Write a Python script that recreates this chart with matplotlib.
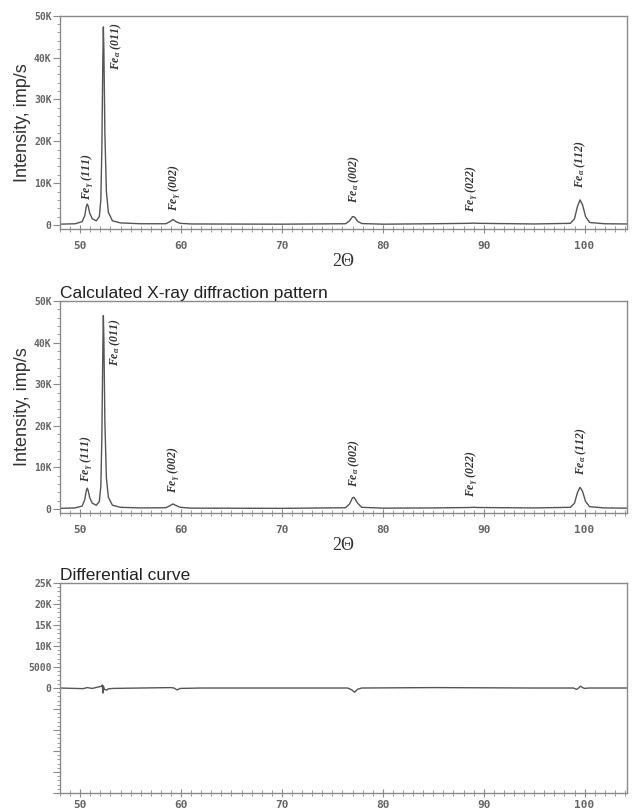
import matplotlib.pyplot as plt
from matplotlib.ticker import MultipleLocator, FuncFormatter

plt.rcParams['mathtext.fontset'] = 'custom'
plt.rcParams['mathtext.it'] = 'Liberation Serif:italic:bold'
plt.rcParams['mathtext.rm'] = 'Liberation Serif:italic:bold'

# measured pattern
two_theta_meas = [48.0, 49.5, 50.2, 50.45, 50.6, 50.7, 50.8, 50.95, 51.2, 51.6, 51.9,
                  52.05, 52.15, 52.25, 52.3, 52.35, 52.45, 52.6, 52.8, 53.2, 54.0, 56.0,
                  58.5, 58.9, 59.2, 59.5, 59.9, 61.0, 70.0, 76.3, 76.7, 77.0, 77.2, 77.5,
                  77.9, 80.0, 85.0, 88.5, 89.0, 89.5, 95.0, 98.6, 99.0, 99.3, 99.55, 99.8,
                  100.1, 100.5, 102.0, 104.2]
intensity_meas = [200, 300, 800, 2200, 4300, 5000, 4500, 2800, 1500, 1000, 2000,
                  6000, 18000, 40000, 47300, 42000, 22000, 8000, 3000, 1000, 500, 300,
                  300, 800, 1300, 800, 400, 250, 200, 300, 1000, 2000, 1900, 900,
                  350, 200, 300, 400, 450, 400, 250, 400, 1500, 4500, 6000, 4800,
                  2000, 600, 300, 250]

# calculated pattern
two_theta_calc = [48.0, 49.5, 50.2, 50.45, 50.6, 50.7, 50.8, 50.95, 51.2, 51.6, 51.9,
                  52.05, 52.15, 52.25, 52.3, 52.35, 52.45, 52.6, 52.8, 53.2, 54.0, 56.0,
                  58.5, 58.9, 59.2, 59.5, 59.9, 61.0, 70.0, 76.3, 76.7, 77.0, 77.15, 77.5,
                  77.9, 80.0, 85.0, 88.5, 89.0, 89.5, 95.0, 98.6, 99.0, 99.3, 99.55, 99.8,
                  100.1, 100.5, 102.0, 104.2]
intensity_calc = [150, 250, 700, 2200, 4300, 5000, 4400, 2700, 1400, 900, 1800,
                  5500, 17000, 39000, 46500, 41000, 21000, 7500, 2800, 900, 400, 250,
                  300, 800, 1200, 850, 400, 200, 150, 300, 1200, 2700, 2800, 1400,
                  400, 200, 250, 350, 400, 350, 250, 400, 1400, 4000, 5200, 4200,
                  1800, 550, 250, 200]

# differential curve
two_theta_diff = [48.0, 50.3, 50.7, 51.2, 51.8, 52.1, 52.2, 52.25, 52.3, 52.4, 52.6,
                  52.8, 53.2, 56.0, 59.0, 59.3, 59.6, 59.9, 62.0, 70.0, 76.5, 76.9,
                  77.2, 77.5, 77.9, 85.0, 95.0, 98.9, 99.2, 99.4, 99.6, 99.8, 100.0,
                  100.4, 104.2]
intensity_diff = [0, -150, 100, -100, 250, 400, 700, -1200, 500, -300, -500,
                  -200, -100, 0, 100, 0, -450, -100, 0, 0, 0, -400,
                  -1000, -300, 0, 100, 0, 0, -350, 0, 450, 100, -100,
                  0, 0]

peak_labels = ['Fe$_{\\gamma}$ (111)', 'Fe$_{\\alpha}$ (011)', 'Fe$_{\\gamma}$ (002)',
               'Fe$_{\\alpha}$ (002)', 'Fe$_{\\gamma}$ (022)', 'Fe$_{\\alpha}$ (112)']

# label anchors (x, y, va) per panel
label_pos_meas = [(50.7, 6000, 'bottom'), (53.6, 48500, 'top'), (59.4, 3300, 'bottom'),
                  (77.2, 5300, 'bottom'), (88.8, 3100, 'bottom'), (99.6, 8800, 'bottom')]
label_pos_calc = [(50.6, 6500, 'bottom'), (53.5, 45800, 'top'), (59.3, 3800, 'bottom'),
                  (77.2, 5300, 'bottom'), (88.8, 2900, 'bottom'), (99.7, 8200, 'bottom')]

line_col = '#555555'
spine_col = '#8a8a8a'
tick_col = '#666666'


def fmt_k(v, pos):
    if v < 0:
        return ''
    if v == 0:
        return '0'
    if v >= 10000:
        return f'{v/1000:.0f}K'
    return f'{v:.0f}'


def style_axes(ax, ymaj, ymin, xpad=6):
    ax.set_xlim(48.0, 104.2)
    for s in ax.spines.values():
        s.set_color(spine_col)
        s.set_linewidth(1.0)
    ax.xaxis.set_major_locator(MultipleLocator(10))
    ax.xaxis.set_minor_locator(MultipleLocator(1))
    ax.yaxis.set_major_locator(MultipleLocator(ymaj))
    ax.yaxis.set_minor_locator(MultipleLocator(ymin))
    ax.yaxis.set_major_formatter(FuncFormatter(fmt_k))
    ax.tick_params(axis='x', which='major', direction='inout', length=6, color=spine_col,
                   labelsize=8, labelcolor=tick_col, pad=xpad)
    ax.tick_params(axis='x', which='minor', direction='inout', length=4, color=spine_col)
    ax.tick_params(axis='y', which='major', direction='out', length=5, color=spine_col,
                   labelsize=7, labelcolor=tick_col, pad=1)
    ax.tick_params(axis='y', which='minor', direction='out', length=2.5, color=spine_col)
    for lab in ax.get_xticklabels() + ax.get_yticklabels():
        lab.set_family('DejaVu Sans Mono')
        lab.set_fontweight('bold')


fig = plt.figure(figsize=(6.34, 8.1), dpi=100)

ax1 = fig.add_axes([0.0946, 0.7173, 0.8943, 0.2634])
ax2 = fig.add_axes([0.0946, 0.3667, 0.8943, 0.2617])
ax3 = fig.add_axes([0.0946, 0.0210, 0.8943, 0.2592])

ax1.plot(two_theta_meas, intensity_meas, color=line_col, lw=1.0)
ax2.plot(two_theta_calc, intensity_calc, color=line_col, lw=1.0)
ax3.plot(two_theta_diff, intensity_diff, color=line_col, lw=1.0)

ax1.set_ylim(-950, 50000)
ax2.set_ylim(-960, 50000)
ax3.set_ylim(-25000, 25000)

style_axes(ax1, 10000, 2000)
style_axes(ax2, 10000, 2000)
style_axes(ax3, 5000, 1000, xpad=2)

for ax, positions in [(ax1, label_pos_meas), (ax2, label_pos_calc)]:
    for txt, (x, y, va) in zip(peak_labels, positions):
        ax.text(x, y, txt, rotation=90, ha='center', va=va, fontsize=8.5,
                family='Liberation Serif', style='italic', weight='bold', color='#333333')
    ax.set_ylabel('Intensity, imp/s', fontsize=13, family='Liberation Sans',
                  color='#333333', labelpad=2)
    ax.set_xlabel('2Θ', fontsize=13, family='Liberation Serif', color='#333333', labelpad=1)

ax2.set_title('Calculated X-ray diffraction pattern', loc='left', fontsize=12.5,
              family='Liberation Sans', color='#222222', pad=2)
ax3.set_title('Differential curve', loc='left', fontsize=12.5,
              family='Liberation Sans', color='#222222', pad=2)

plt.savefig('out.png', dpi=100, facecolor='white')
plt.close()
